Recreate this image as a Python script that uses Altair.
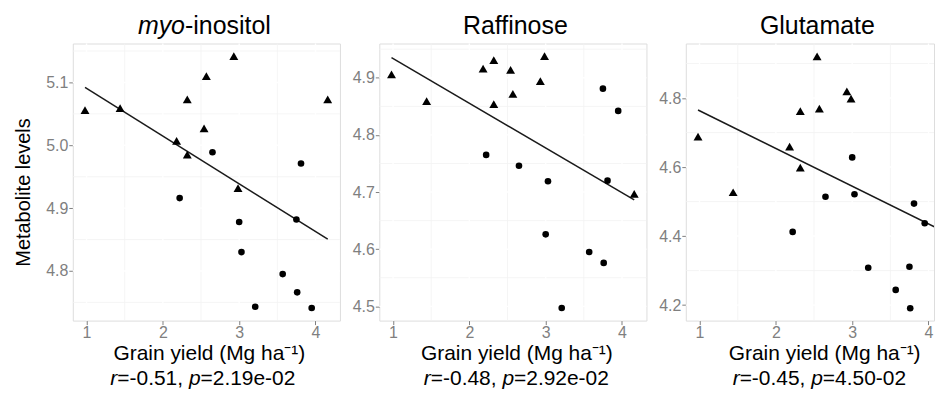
import altair as alt
import pandas as pd

# ---------------- data ----------------
grain_yield = [0.98, 1.44, 2.18, 2.32, 2.32, 2.54, 2.57, 2.93, 2.985, 4.16,
               2.22, 2.65, 3.00, 3.03, 3.21, 3.57, 3.75, 3.76, 3.81, 3.95]
group = ["tri"] * 10 + ["dot"] * 10

myo_inositol = [5.056, 5.059, 5.007, 5.073, 4.985, 5.027, 5.110, 5.142, 4.932, 5.073,
                4.916, 4.989, 4.878, 4.830, 4.743, 4.795, 4.882, 4.766, 4.971, 4.741]
raffinose = [4.906, 4.859, 4.916, 4.931, 4.854, 4.914, 4.872, 4.894, 4.938, 4.697,
             4.765, 4.746, 4.626, 4.719, 4.497, 4.595, 4.881, 4.576, 4.720, 4.842]
glutamate = [4.688, 4.527, 4.659, 4.762, 4.598, 4.921, 4.769, 4.819, 4.798, 4.575,
             4.412, 4.514, 4.628, 4.521, 4.308, 4.244, 4.311, 4.191, 4.494, 4.437]

x_major = [1, 2, 3, 4]
x_minor = [1.5, 2.5, 3.5]
x_domain = [0.82, 4.32]

panel_titles = [[("myo", True), ("-inositol", False)],
                [("Raffinose", False)],
                [("Glutamate", False)]]
panel_values = [myo_inositol, raffinose, glutamate]
y_domains = [[4.721, 5.162], [4.475, 4.960], [4.155, 4.958]]
y_major = [[4.8, 4.9, 5.0, 5.1], [4.5, 4.6, 4.7, 4.8, 4.9], [4.2, 4.4, 4.6, 4.8]]
y_minor = [[4.75, 4.85, 4.95, 5.05, 5.15], [4.55, 4.65, 4.75, 4.85, 4.95], [4.3, 4.5, 4.7, 4.9]]
stats = [[("r", True), ("=-0.51, ", False), ("p", True), ("=2.19e-02", False)],
         [("r", True), ("=-0.48, ", False), ("p", True), ("=2.92e-02", False)],
         [("r", True), ("=-0.45, ", False), ("p", True), ("=4.50-02", False)]]

x_title = "Grain yield (Mg ha\u207b\u00b9)"
y_title = "Metabolite levels"

# ---------------- style ----------------
FONT = "Liberation Sans"
GREY = "#7F7F7F"
BG = "#E5E5E5"
W, H = 268, 278
W_LAST = 249          # last panel is cut at the right edge, as in the reference
SPACING = 39.5
TITLE_CX = [132, 136.5, 132]
STATS_CX = [130.5, 137.5, 134]
XTITLE_CX = [136.5, 137.5, 138.8]

CHAR_W = {".": .278, ",": .278, " ": .278, "=": .584, "-": .333, "r": .333, "p": .556,
          "e": .556, "m": .833, "y": .5, "o": .556, "i": .222, "n": .556, "s": .5,
          "t": .278, "l": .222, "f": .278}


def text_width(s, size):
    return sum(CHAR_W.get(c, .556) for c in s) * size


def text_run(segments, size, cx, y):
    layers = []
    if len(segments) == 1:
        s, it = segments[0]
        layers.append(
            alt.Chart(pd.DataFrame({"t": [s]})).mark_text(
                align="center", baseline="alphabetic", fontSize=size, font=FONT,
                fontStyle="italic" if it else "normal", color="black"
            ).encode(text="t:N", x=alt.value(cx), y=alt.value(y)))
        return layers
    total = sum(text_width(s, size) for s, _ in segments)
    x = cx - total / 2
    for s, it in segments:
        layers.append(
            alt.Chart(pd.DataFrame({"t": [s]})).mark_text(
                align="left", baseline="alphabetic", fontSize=size, font=FONT,
                fontStyle="italic" if it else "normal", color="black"
            ).encode(text="t:N", x=alt.value(x), y=alt.value(y)))
        x += text_width(s, size)
    return layers


def make_panel(i):
    width = W if i < 2 else W_LAST
    xd = x_domain if i < 2 else [x_domain[0], x_domain[0] + (x_domain[1] - x_domain[0]) * W_LAST / W]
    xs = alt.Scale(domain=xd, nice=False, zero=False)
    ys = alt.Scale(domain=y_domains[i], nice=False, zero=False)
    xaxis = alt.Axis(values=x_major, format="d", grid=False, domain=False, tickSize=4,
                     tickColor=GREY, tickWidth=1, labelColor=GREY, labelFontSize=16,
                     labelFont=FONT, labelPadding=0, title=x_title, titleFont=FONT,
                     titleFontSize=21, titleFontWeight="normal", titleColor="black",
                     titleX=XTITLE_CX[i], titleY=39, titleBaseline="alphabetic",
                     titleAlign="center")
    if i == 0:
        yaxis = alt.Axis(values=y_major[i], format=".1f", grid=False, domain=False, tickSize=4,
                         tickColor=GREY, tickWidth=1, labelColor=GREY, labelFontSize=16,
                         labelFont=FONT, labelPadding=1, title=y_title, titleFont=FONT,
                         titleFontSize=20, titleFontWeight="normal", titleColor="black",
                         titleAngle=270, titleX=-43, titleY=149, titleBaseline="alphabetic",
                         titleAlign="center")
    else:
        yaxis = alt.Axis(values=y_major[i], format=".1f", grid=False, domain=False, tickSize=4,
                         tickColor=GREY, tickWidth=1, labelColor=GREY, labelFontSize=16,
                         labelFont=FONT, labelPadding=1, title=None)

    df = pd.DataFrame({"x": grain_yield, "y": panel_values[i], "g": group})
    X = alt.X("x:Q", scale=xs, axis=xaxis)
    Y = alt.Y("y:Q", scale=ys, axis=yaxis)

    vminor = alt.Chart(pd.DataFrame({"x": x_minor})).mark_rule(
        color="#F2F2F2", strokeWidth=0.8).encode(x=X)
    hminor = alt.Chart(pd.DataFrame({"y": y_minor[i]})).mark_rule(
        color="#F2F2F2", strokeWidth=0.8).encode(y=Y)
    vmajor = alt.Chart(pd.DataFrame({"x": x_major})).mark_rule(
        color="white", strokeWidth=1.4).encode(x=X)
    hmajor = alt.Chart(pd.DataFrame({"y": y_major[i]})).mark_rule(
        color="white", strokeWidth=1.4).encode(y=Y)

    reg = alt.Chart(df).transform_regression("x", "y").mark_line(
        color="#1a1a1a", strokeWidth=1.5, clip=True).encode(x=X, y=Y)
    tri = alt.Chart(df).transform_filter(alt.datum.g == "tri").mark_point(
        shape="triangle-up", filled=True, size=80, color="black", opacity=1,
        clip=True).encode(x=X, y=Y)
    dot = alt.Chart(df).transform_filter(alt.datum.g == "dot").mark_point(
        shape="circle", filled=True, size=44, color="black", opacity=1,
        clip=True).encode(x=X, y=Y)

    texts = (text_run(panel_titles[i], 25, TITLE_CX[i], -10)
             + text_run(stats[i], 21, STATS_CX[i], H + 65))

    return alt.layer(vminor, hminor, vmajor, hmajor, reg, tri, dot, *texts).properties(
        width=width, height=H)


chart = alt.hconcat(make_panel(0), make_panel(1), make_panel(2),
                    spacing=SPACING, bounds="flush").properties(
    padding={"left": 5, "top": 4, "right": 0, "bottom": 0}
).configure_view(fill=BG, stroke="transparent").configure(font=FONT)

chart.save("out.html", embed_options={"renderer": "svg", "actions": False})
